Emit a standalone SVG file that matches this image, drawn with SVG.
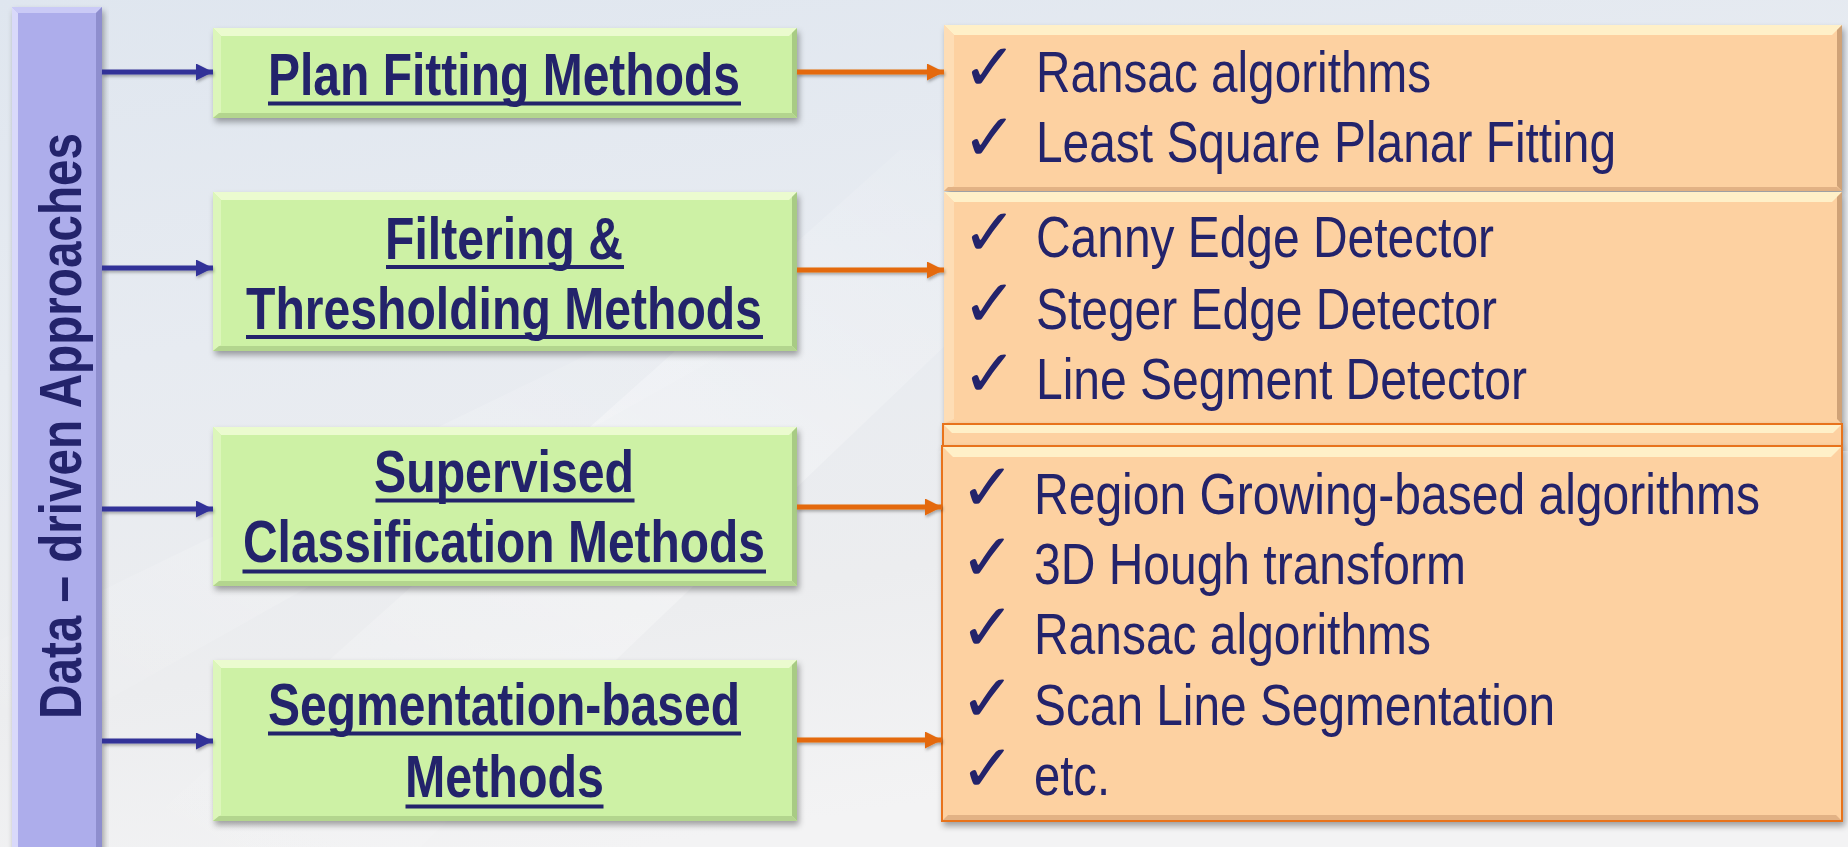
<svg xmlns="http://www.w3.org/2000/svg" width="1848" height="847" viewBox="0 0 1848 847">
<defs>
<linearGradient id="bg" x1="0" y1="0" x2="0.35" y2="1">
<stop offset="0" stop-color="#DFE6EF"/>
<stop offset="0.4" stop-color="#E7EBF1"/>
<stop offset="0.75" stop-color="#ECEDEF"/>
<stop offset="1" stop-color="#F3F3F4"/>
</linearGradient>
<linearGradient id="streak" x1="0" y1="1" x2="1" y2="0">
<stop offset="0" stop-color="#FFFFFF" stop-opacity="0"/>
<stop offset="0.5" stop-color="#FFFFFF" stop-opacity="0.55"/>
<stop offset="1" stop-color="#FFFFFF" stop-opacity="0"/>
</linearGradient>
<filter id="sh" x="-5%" y="-10%" width="112%" height="130%">
<feDropShadow dx="2" dy="4" stdDeviation="3" flood-color="#000" flood-opacity="0.35"/>
</filter>
<filter id="ash" x="-5%" y="-100%" width="110%" height="300%">
<feDropShadow dx="1" dy="2" stdDeviation="1.5" flood-color="#000" flood-opacity="0.3"/>
</filter>
<marker id="mb" markerUnits="userSpaceOnUse" markerWidth="17" markerHeight="17" refX="17" refY="8.5" orient="auto">
<path d="M0,0 L17,8.5 L0,17 z" fill="#313398"/>
</marker>
<marker id="mo" markerUnits="userSpaceOnUse" markerWidth="17" markerHeight="17" refX="17" refY="8.5" orient="auto">
<path d="M0,0 L17,8.5 L0,17 z" fill="#E4690A"/>
</marker>
<style>
.pb{fill:#ADADEB}
.pl{fill:#D9D9FA}
.pt{fill:#CACAF6}
.pr{fill:#8E8ECE}
.gb{fill:#CDF1A5}
.gt{fill:#EBFBCF}
.gl{fill:#DCF6BA}
.gr{fill:#A8CB84}
.gd{fill:#B3D58E}
.ob{fill:#FDD1A1}
.ot{fill:#FFF0C8}
.ol{fill:#FEDDB5}
.or{fill:#CFA277}
.od{fill:#E2B285}
.lblb{font-family:"Liberation Sans",Arial,sans-serif;font-weight:bold;font-size:60px;fill:#23236B}
.lbl{font-family:"Liberation Sans",Arial,sans-serif;font-size:58px;fill:#23236B}
.chk{font-family:"DejaVu Sans",sans-serif;font-weight:bold;font-size:66px;fill:#23236B}
.ul{stroke:#23236B;stroke-width:4}
.ab{stroke:#313398;stroke-width:5;fill:none;marker-end:url(#mb)}
.ao{stroke:#E4690A;stroke-width:5;fill:none;marker-end:url(#mo)}
</style>
</defs>

<g id="background">
<rect x="0" y="0" width="1848" height="847" fill="url(#bg)"/>
<polygon points="120,847 900,150 1150,150 420,847" fill="url(#streak)" opacity="0.6"/>
<polygon points="0,640 700,300 820,300 0,760" fill="url(#streak)" opacity="0.4"/>
</g>

<g id="root-approaches">
<g filter="url(#sh)">
<rect class="pb" x="12" y="7" width="90" height="850"/>
</g>
<polygon class="pt" points="12,7 102,7 96,13 18,13"/>
<polygon class="pl" points="12,7 18,13 18,857 12,857"/>
<polygon class="pr" points="102,7 102,857 96,857 96,13"/>
<text class="lblb" font-size="62" transform="translate(81,719) rotate(-90)" x="0" y="0" textLength="586" lengthAdjust="spacingAndGlyphs">Data – driven Approaches</text>
</g>

<g id="plan-fitting">
<g filter="url(#sh)"><rect class="gb" x="213" y="28" width="584" height="90"/></g>
<polygon class="gt" points="213,28 797,28 789,36 221,36"/>
<polygon class="gl" points="213,28 221,36 221,112 213,118"/>
<polygon class="gr" points="797,28 797,118 792,113 792,33"/>
<polygon class="gd" points="213,118 797,118 792,113 219,113"/>
<text class="lblb" x="268" y="95" textLength="472" lengthAdjust="spacingAndGlyphs">Plan Fitting Methods</text>
<line class="ul" x1="268" y1="103.5" x2="741" y2="103.5"/>
</g>

<g id="filtering">
<g filter="url(#sh)"><rect class="gb" x="213" y="192" width="584" height="159"/></g>
<polygon class="gt" points="213,192 797,192 789,200 221,200"/>
<polygon class="gl" points="213,192 221,200 221,345 213,351"/>
<polygon class="gr" points="797,192 797,351 792,346 792,197"/>
<polygon class="gd" points="213,351 797,351 792,346 219,346"/>
<text class="lblb" x="385" y="258.5" textLength="238" lengthAdjust="spacingAndGlyphs">Filtering &amp;</text>
<line class="ul" x1="386" y1="267" x2="624" y2="267"/>
<text class="lblb" x="246" y="328.5" textLength="516" lengthAdjust="spacingAndGlyphs">Thresholding Methods</text>
<line class="ul" x1="246" y1="337" x2="763" y2="337"/>
</g>

<g id="supervised">
<g filter="url(#sh)"><rect class="gb" x="213" y="427" width="584" height="159"/></g>
<polygon class="gt" points="213,427 797,427 789,435 221,435"/>
<polygon class="gl" points="213,427 221,435 221,580 213,586"/>
<polygon class="gr" points="797,427 797,586 792,581 792,432"/>
<polygon class="gd" points="213,586 797,586 792,581 219,581"/>
<text class="lblb" x="374" y="492" textLength="260" lengthAdjust="spacingAndGlyphs">Supervised</text>
<line class="ul" x1="375.5" y1="500.5" x2="634.5" y2="500.5"/>
<text class="lblb" x="243" y="562" textLength="522" lengthAdjust="spacingAndGlyphs">Classification Methods</text>
<line class="ul" x1="242.5" y1="571.5" x2="766" y2="571.5"/>
</g>

<g id="segmentation">
<g filter="url(#sh)"><rect class="gb" x="213" y="660" width="584" height="161"/></g>
<polygon class="gt" points="213,660 797,660 789,668 221,668"/>
<polygon class="gl" points="213,660 221,668 221,815 213,821"/>
<polygon class="gr" points="797,660 797,821 792,816 792,665"/>
<polygon class="gd" points="213,821 797,821 792,816 219,816"/>
<text class="lblb" x="268" y="725" textLength="472" lengthAdjust="spacingAndGlyphs">Segmentation-based</text>
<line class="ul" x1="268" y1="733.5" x2="741" y2="733.5"/>
<text class="lblb" x="405" y="797" textLength="199" lengthAdjust="spacingAndGlyphs">Methods</text>
<line class="ul" x1="405.5" y1="806.5" x2="603.5" y2="806.5"/>
</g>

<g id="list-plan">
<g filter="url(#sh)"><rect class="ob" x="944" y="25" width="898" height="166"/></g>
<polygon class="ot" points="944,25 1842,25 1832,35 954,35"/>
<polygon class="ol" points="944,25 954,35 954,186 944,191"/>
<polygon class="or" points="1842,25 1842,191 1837,186 1837,30"/>
<polygon class="od" points="944,191 1842,191 1837,187 948,187"/>
<text class="chk" x="962" y="90">✓</text>
<text class="lbl" x="1036" y="92" textLength="395" lengthAdjust="spacingAndGlyphs">Ransac algorithms</text>
<text class="chk" x="962" y="160">✓</text>
<text class="lbl" x="1036" y="162" textLength="580" lengthAdjust="spacingAndGlyphs">Least Square Planar Fitting</text>
</g>

<g id="list-filtering">
<g filter="url(#sh)"><rect class="ob" x="944" y="192" width="898" height="232"/></g>
<polygon class="ot" points="944,192 1842,192 1832,202 954,202"/>
<polygon class="ol" points="944,192 954,202 954,419 944,424"/>
<polygon class="or" points="1842,192 1842,424 1837,419 1837,197"/>
<text class="chk" x="962" y="255">✓</text>
<text class="lbl" x="1036" y="257" textLength="458" lengthAdjust="spacingAndGlyphs">Canny Edge Detector</text>
<text class="chk" x="962" y="326">✓</text>
<text class="lbl" x="1036" y="328.5" textLength="461" lengthAdjust="spacingAndGlyphs">Steger Edge Detector</text>
<text class="chk" x="962" y="396">✓</text>
<text class="lbl" x="1036" y="398.5" textLength="491" lengthAdjust="spacingAndGlyphs">Line Segment Detector</text>
</g>

<g id="list-supervised">
<g filter="url(#sh)"><rect class="ob" x="943" y="424" width="899" height="22" stroke="#E8731A" stroke-width="2"/></g>
<polygon class="ot" points="944,425 1841,425 1833,433 952,433"/>
</g>

<g id="list-segmentation">
<g filter="url(#sh)"><rect class="ob" x="942" y="446" width="900" height="375" stroke="#E8731A" stroke-width="2"/></g>
<polygon class="ot" points="943,447 1841,447 1831,457 953,457"/>
<polygon class="od" points="943,820 1841,820 1836,815 948,815"/>
<text class="chk" x="960" y="510">✓</text>
<text class="lbl" x="1034" y="513.5" textLength="726" lengthAdjust="spacingAndGlyphs">Region Growing-based algorithms</text>
<text class="chk" x="960" y="580">✓</text>
<text class="lbl" x="1034" y="583.5" textLength="432" lengthAdjust="spacingAndGlyphs">3D Hough transform</text>
<text class="chk" x="960" y="650">✓</text>
<text class="lbl" x="1034" y="653.5" textLength="397" lengthAdjust="spacingAndGlyphs">Ransac algorithms</text>
<text class="chk" x="960" y="721">✓</text>
<text class="lbl" x="1034" y="725" textLength="521" lengthAdjust="spacingAndGlyphs">Scan Line Segmentation</text>
<text class="chk" x="960" y="791">✓</text>
<text class="lbl" x="1034" y="795" textLength="76" lengthAdjust="spacingAndGlyphs">etc.</text>
</g>

<g id="connectors" filter="url(#ash)">
<line class="ab" x1="102" y1="72" x2="213" y2="72"/>
<line class="ab" x1="102" y1="268" x2="213" y2="268"/>
<line class="ab" x1="102" y1="509" x2="213" y2="509"/>
<line class="ab" x1="102" y1="741" x2="213" y2="741"/>
<line class="ao" x1="797" y1="72" x2="944" y2="72"/>
<line class="ao" x1="797" y1="270" x2="944" y2="270"/>
<line class="ao" x1="797" y1="507" x2="942" y2="507"/>
<line class="ao" x1="797" y1="740" x2="942" y2="740"/>
</g>
</svg>
